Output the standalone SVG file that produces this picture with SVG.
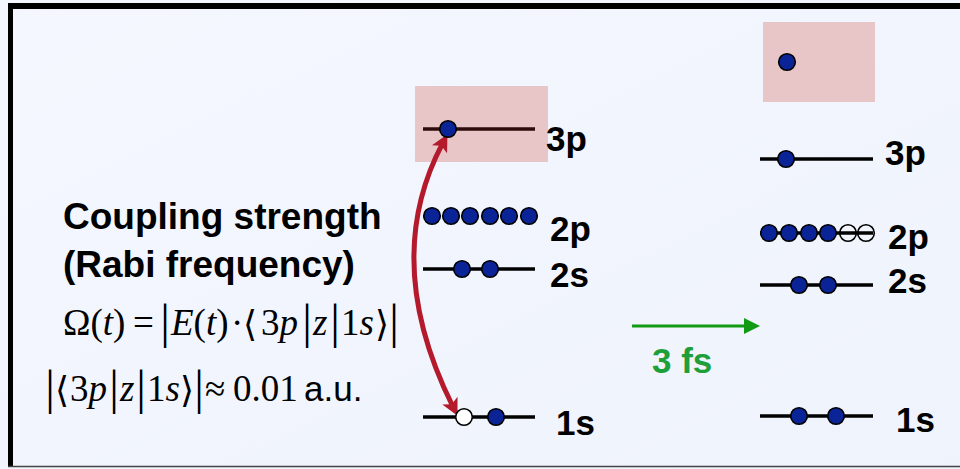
<svg xmlns="http://www.w3.org/2000/svg" width="960" height="469" viewBox="0 0 960 469">
  <defs>
    <linearGradient id="bg" x1="0" y1="0" x2="1" y2="1">
      <stop offset="0" stop-color="#f4f7fe"/>
      <stop offset="1" stop-color="#eff3fc"/>
    </linearGradient>
    <marker id="redHead" viewBox="-8 -10 20 20" markerWidth="20" markerHeight="20" refX="0" refY="0" orient="auto-start-reverse" markerUnits="userSpaceOnUse" overflow="visible">
      <path d="M11,0 L-6,-8.5 L-2,0 L-6,8.5 Z" fill="#b41a2c"/>
    </marker>
    <marker id="greenHead" viewBox="-2 -10 20 20" markerWidth="20" markerHeight="20" refX="0" refY="0" orient="auto" markerUnits="userSpaceOnUse" overflow="visible">
      <path d="M0,-8 L16,0 L0,8 Z" fill="#129a12"/>
    </marker>
  </defs>
  <style>
    .lvl { stroke: #000; stroke-width: 3.5; fill: none; }
    .lvlTint { stroke: #2e0a0a; stroke-width: 3.5; fill: none; }
    .e { fill: #0a2396; stroke: #000; stroke-width: 1.6; }
    .hole { fill: #ffffff; stroke: #000; stroke-width: 1.6; }
    .holeOpen { fill: none; stroke: #000; stroke-width: 1.6; }
    .pink { fill: #e8c5c6; }
    .lab { font-family: "Liberation Sans", Arial, sans-serif; font-weight: bold; font-size: 35px; fill: #000; }
    .head { font-family: "Liberation Sans", Arial, sans-serif; font-weight: bold; font-size: 37px; fill: #000; }
    .m { font-family: "Liberation Serif", "Times New Roman", "DejaVu Serif", serif; font-size: 37px; fill: #000; }
    .mi { font-style: italic; }
    .bar { font-family: "Liberation Serif", "Times New Roman", serif; font-size: 48px; fill: #000; text-anchor: middle; }
    .ang { font-family: "DejaVu Serif", "Liberation Serif", serif; font-size: 36px; fill: #000; }
    .sans { font-family: "Liberation Sans", Arial, sans-serif; font-size: 35px; fill: #000; }
  </style>

  <g id="background">
    <rect x="0" y="0" width="960" height="469" fill="url(#bg)"/>
    <rect x="8" y="3" width="952" height="6" fill="#000"/>
    <rect x="8" y="3" width="5" height="464" fill="#000"/>
    <line x1="8" y1="466.5" x2="960" y2="466.5" stroke="#444" stroke-width="1.5"/>
  </g>

  <g id="caption">
    <text class="head" x="63" y="229">Coupling strength</text>
    <text class="head" x="63" y="277">(Rabi frequency)</text>
  </g>

  <g id="formula-rabi">
    <text class="m" x="63" y="335">Ω(<tspan class="mi">t</tspan>)</text>
    <text class="m" x="133" y="335">=</text>
    <text class="bar" x="165" y="338">|</text>
    <text class="m" x="171" y="335"><tspan class="mi">E</tspan>(<tspan class="mi">t</tspan>)</text>
    <text class="m" x="231" y="335">·</text>
    <text class="ang" x="243" y="336">⟨</text>
    <text class="m" x="261" y="335">3<tspan class="mi">p</tspan></text>
    <text class="bar" x="307" y="338">|</text>
    <text class="m mi" x="313" y="335">z</text>
    <text class="bar" x="335" y="338">|</text>
    <text class="m" x="341" y="335">1<tspan class="mi">s</tspan></text>
    <text class="ang" x="375" y="336">⟩</text>
    <text class="bar" x="394" y="338">|</text>
  </g>

  <g id="formula-dipole">
    <text class="bar" x="50" y="404">|</text>
    <text class="ang" x="55" y="402">⟨</text>
    <text class="m" x="70" y="401">3<tspan class="mi">p</tspan></text>
    <text class="bar" x="114" y="404">|</text>
    <text class="m mi" x="120" y="401">z</text>
    <text class="bar" x="141" y="404">|</text>
    <text class="m" x="147" y="401">1<tspan class="mi">s</tspan></text>
    <text class="ang" x="180" y="402">⟩</text>
    <text class="bar" x="199" y="404">|</text>
    <text class="m" x="205" y="401">≈</text>
    <text class="m" x="233" y="401">0.01</text>
    <text class="sans" x="304" y="401">a.u.</text>
  </g>

  <g id="left-3p">
    <rect class="pink" x="415" y="86" width="133" height="76"/>
    <line class="lvlTint" x1="423" y1="129" x2="535" y2="129"/>
    <text class="lab" x="546" y="151">3p</text>
  </g>

  <g id="left-2p">
    <circle class="e" cx="432" cy="216" r="8.3"/>
    <circle class="e" cx="451" cy="216" r="8.3"/>
    <circle class="e" cx="470" cy="216" r="8.3"/>
    <circle class="e" cx="490" cy="216" r="8.3"/>
    <circle class="e" cx="509" cy="216" r="8.3"/>
    <circle class="e" cx="529" cy="216" r="8.3"/>
    <text class="lab" x="550" y="241">2p</text>
  </g>

  <g id="left-2s">
    <line class="lvl" x1="423" y1="269" x2="535" y2="269"/>
    <circle class="e" cx="462" cy="269" r="8.3"/>
    <circle class="e" cx="490" cy="269" r="8.3"/>
    <text class="lab" x="550" y="287">2s</text>
  </g>

  <g id="left-1s">
    <line class="lvl" x1="423" y1="417" x2="535" y2="417"/>
    <text class="lab" x="556" y="435">1s</text>
  </g>

  <g id="connectors">
    <path d="M442.3,143.9 C405,215 400,300 452.6,406" fill="none" stroke="#b41a2c" stroke-width="5" marker-start="url(#redHead)" marker-end="url(#redHead)"/>
    <line x1="632" y1="326" x2="744" y2="326" stroke="#129a12" stroke-width="3.2" marker-end="url(#greenHead)"/>
  </g>

  <g id="left-electrons">
    <circle class="e" cx="448" cy="129" r="8.3"/>
    <circle class="hole" cx="464" cy="417" r="8.3"/>
    <circle class="e" cx="496" cy="417" r="8.3"/>
  </g>

  <g id="label-3fs">
    <text class="lab" x="652" y="373" style="fill:#1f9f3a">3 fs</text>
  </g>

  <g id="right-ionized">
    <rect class="pink" x="763" y="22" width="112" height="80"/>
    <circle class="e" cx="787" cy="62" r="8.3"/>
  </g>

  <g id="right-3p">
    <line class="lvl" x1="760" y1="159" x2="873" y2="159"/>
    <circle class="e" cx="786" cy="159" r="8.3"/>
    <text class="lab" x="885" y="165">3p</text>
  </g>

  <g id="right-2p">
    <line class="lvl" x1="760" y1="233" x2="873" y2="233"/>
    <circle class="e" cx="769" cy="233" r="8.3"/>
    <circle class="e" cx="789" cy="233" r="8.3"/>
    <circle class="e" cx="809" cy="233" r="8.3"/>
    <circle class="e" cx="828" cy="233" r="8.3"/>
    <circle class="holeOpen" cx="848" cy="233" r="8.3"/>
    <circle class="holeOpen" cx="866" cy="233" r="8.3"/>
    <text class="lab" x="888" y="249">2p</text>
  </g>

  <g id="right-2s">
    <line class="lvl" x1="760" y1="285" x2="873" y2="285"/>
    <circle class="e" cx="799" cy="285" r="8.3"/>
    <circle class="e" cx="828" cy="285" r="8.3"/>
    <text class="lab" x="888" y="293">2s</text>
  </g>

  <g id="right-1s">
    <line class="lvl" x1="760" y1="416" x2="873" y2="416"/>
    <circle class="e" cx="799" cy="416" r="8.3"/>
    <circle class="e" cx="836" cy="416" r="8.3"/>
    <text class="lab" x="896" y="432">1s</text>
  </g>
</svg>
